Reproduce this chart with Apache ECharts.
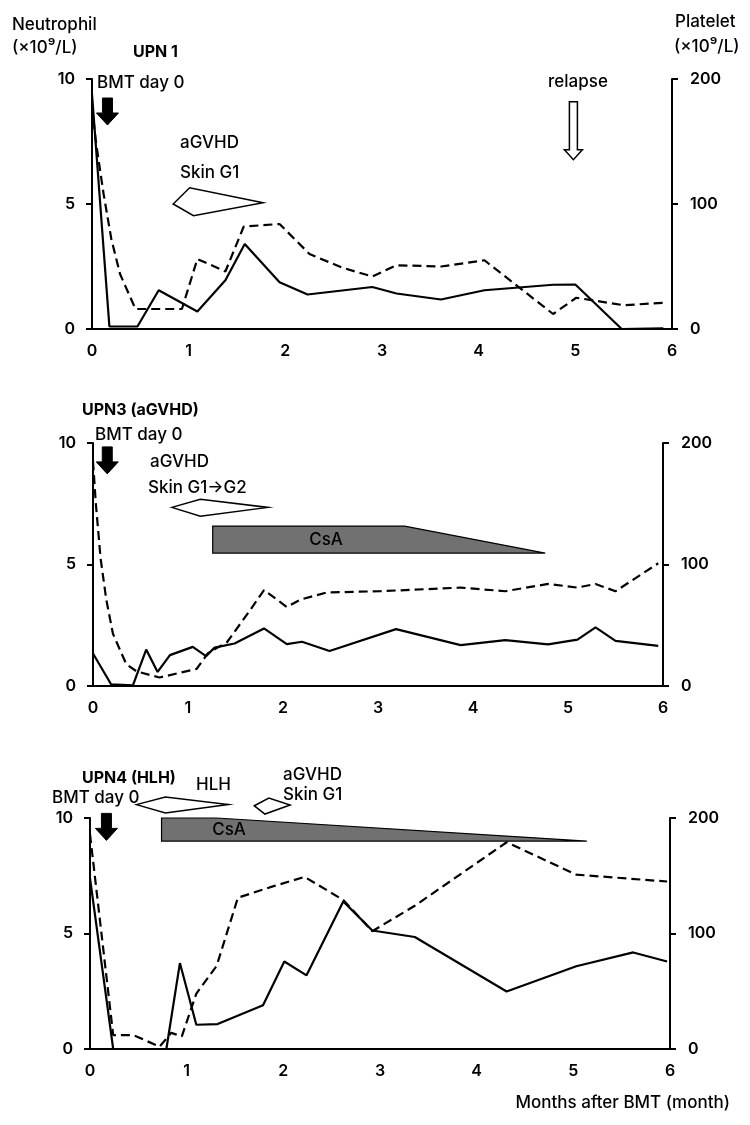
<!DOCTYPE html>
<html><head><meta charset="utf-8">
<script src="https://cdn.jsdelivr.net/npm/echarts@6/dist/echarts.min.js"></script>
<style>html,body{margin:0;padding:0;background:#fff}#c{width:750px;height:1125px}</style>
</head><body><div id="c"></div>
<script>
// ---------- Data (months after BMT) ----------
const xTicks = [0, 1, 2, 3, 4, 5, 6];
// UPN 1
const p1NeutMonths = [0, 0.18, 0.47, 0.69, 1.09, 1.38, 1.58, 1.94, 2.23, 2.9, 3.15, 3.61, 4.06, 4.77, 5.0, 5.48, 5.91];
const p1Neut       = [9.4, 0.1, 0.1, 1.55, 0.7, 1.95, 3.4, 1.87, 1.38, 1.68, 1.42, 1.18, 1.55, 1.77, 1.78, 0, 0.03];
const p1PltMonths  = [0, 0.04, 0.12, 0.2, 0.29, 0.45, 0.93, 1.09, 1.38, 1.57, 1.94, 2.25, 2.59, 2.9, 3.15, 3.61, 4.06, 4.77, 5.01, 5.5, 5.91];
const p1Plt        = [178, 150, 108, 72, 44, 16, 16, 56, 46, 82, 84, 60, 49, 42, 51, 50, 55, 12, 25, 19, 21];
// UPN 3
const p2NeutMonths = [0, 0.19, 0.42, 0.56, 0.68, 0.81, 1.05, 1.19, 1.28, 1.49, 1.8, 2.04, 2.2, 2.49, 3.19, 3.87, 4.34, 4.79, 5.1, 5.29, 5.5, 5.95];
const p2Neut       = [1.34, 0.07, 0.03, 1.5, 0.58, 1.27, 1.61, 1.23, 1.58, 1.75, 2.37, 1.72, 1.82, 1.44, 2.34, 1.68, 1.89, 1.71, 1.91, 2.41, 1.86, 1.65];
const p2PltMonths  = [0, 0.03, 0.08, 0.14, 0.21, 0.35, 0.46, 0.7, 1.09, 1.21, 1.41, 1.65, 1.8, 2.04, 2.18, 2.46, 3.02, 3.87, 4.34, 4.79, 5.1, 5.29, 5.5, 5.95];
const p2Plt        = [185, 150, 105, 71, 43, 18, 12, 7, 14, 27, 36, 62, 79, 65, 71, 77, 78, 81, 78, 84, 81, 84, 78, 101];
// UPN 4
const p3NeutMonths = [0, 0.24, 0.79, 0.93, 1.1, 1.32, 1.79, 2.01, 2.24, 2.62, 2.92, 3.36, 4.31, 5.03, 5.62, 5.97];
const p3Neut       = [7.4, 0, 0, 3.72, 1.05, 1.08, 1.89, 3.79, 3.19, 6.39, 5.13, 4.85, 2.49, 3.58, 4.18, 3.79];
const p3PltMonths  = [0, 0.24, 0.45, 0.72, 0.84, 0.95, 1.1, 1.31, 1.53, 1.9, 2.22, 2.62, 2.92, 3.36, 4.31, 5.03, 5.97];
const p3Plt        = [186, 12, 12, 2, 14, 11, 48, 72, 131, 141, 149, 129, 102, 124, 179, 151, 145];

// ---------- Annotation geometry (month, neutrophil scale) ----------
const p1BmtArrow   = [0.16, 9.24];
const p1RelapseArrow = [4.98, 9.09];
const p1Gvhd       = [[0.84, 5.0], [1.01, 5.65], [1.77, 5.05], [1.05, 4.53]];
const p2BmtArrow   = [0.15, 9.84];
const p2Gvhd       = [[0.83, 7.35], [1.13, 7.68], [1.84, 7.35], [1.13, 6.99]];
const p2CsA        = [[1.26, 6.58], [3.28, 6.58], [4.76, 5.47], [1.26, 5.47]];
const p3BmtArrow   = [0.17, 10.2];
const p3Hlh        = [[0.48, 10.58], [0.78, 10.91], [1.43, 10.58], [0.78, 10.22]];
const p3Gvhd       = [[1.70, 10.53], [1.85, 10.86], [2.07, 10.56], [1.81, 10.17]];
const p3CsA        = [[0.74, 10.0], [1.31, 10.0], [5.14, 9.0], [0.74, 9.0]];

// ---------- Build option ----------
const FONT = 'Inter, "Noto Sans", sans-serif';
const zip = (a, b) => a.map((v, i) => [v, b[i]]);

const grids = [
  {left: 92, right: 78, top: 79, height: 250},
  {left: 93, right: 87, top: 443, height: 243},
  {left: 90, right: 80, top: 818, height: 231}
];
const axisLine = {show: true, lineStyle: {color: '#000', width: 2}};
const lbl = {color: '#000', fontFamily: FONT, fontSize: 16, fontWeight: 600};

const xAxes = grids.map((g, i) => ({
  type: 'value', gridIndex: i, min: xTicks[0], max: xTicks[xTicks.length - 1], interval: 1,
  axisLine, axisTick: {show: false}, splitLine: {show: false},
  axisLabel: Object.assign({margin: 14}, lbl)
}));
const yAxes = [];
grids.forEach((g, i) => {
  yAxes.push({type: 'value', gridIndex: i, position: 'left', min: 0, max: 10, interval: 5,
    axisLine, axisTick: {show: true, length: 6, lineStyle: {color: '#000', width: 2}},
    splitLine: {show: false}, axisLabel: Object.assign({margin: 17}, lbl)});
  yAxes.push({type: 'value', gridIndex: i, position: 'right', min: 0, max: 200, interval: 100,
    axisLine, axisTick: {show: true, length: 6, lineStyle: {color: '#000', width: 2}},
    splitLine: {show: false}, axisLabel: Object.assign({margin: 18}, lbl)});
});

function solidLine(i, xs, ys) {
  return {type: 'line', xAxisIndex: i, yAxisIndex: 2 * i, data: zip(xs, ys), symbol: 'none',
    lineStyle: {color: '#000', width: 2.2}, z: 5, animation: false};
}
function dashedLine(i, xs, ys) {
  return {type: 'line', xAxisIndex: i, yAxisIndex: 2 * i + 1, data: zip(xs, ys), symbol: 'none',
    lineStyle: {color: '#000', width: 2.2, type: [9, 5]}, z: 4, animation: false};
}

function polyShape(api, pts, fill, lw) {
  return {type: 'polygon', shape: {points: pts.map(p => api.coord(p))},
    style: {fill: fill, stroke: '#000', lineWidth: lw, lineJoin: 'miter'}};
}
function solidArrow(api, at) {
  const [x, y] = api.coord(at);
  return {type: 'polygon', shape: {points: [[x-5,y],[x+5,y],[x+5,y+15],[x+11,y+15],[x,y+27],[x-11,y+15],[x-5,y+15]]},
    style: {fill: '#000', stroke: '#000', lineWidth: 1}};
}
function hollowArrow(api, at) {
  const [x, y] = api.coord(at);
  return {type: 'polygon', shape: {points: [[x-4,y],[x+4,y],[x+4,y+48],[x+9,y+48],[x,y+58],[x-9,y+48],[x-4,y+48]]},
    style: {fill: '#fff', stroke: '#000', lineWidth: 1.5}};
}
function annot(i, builder) {
  return {type: 'custom', xAxisIndex: i, yAxisIndex: 2 * i, clip: false, silent: true, z: 6,
    data: [[0, 0]], animation: false,
    renderItem: (params, api) => ({type: 'group', children: builder(api)})};
}

const series = [
  solidLine(0, p1NeutMonths, p1Neut), dashedLine(0, p1PltMonths, p1Plt),
  solidLine(1, p2NeutMonths, p2Neut), dashedLine(1, p2PltMonths, p2Plt),
  solidLine(2, p3NeutMonths, p3Neut), dashedLine(2, p3PltMonths, p3Plt),
  annot(0, api => [solidArrow(api, p1BmtArrow), hollowArrow(api, p1RelapseArrow), polyShape(api, p1Gvhd, '#fff', 1.5)]),
  annot(1, api => [solidArrow(api, p2BmtArrow), polyShape(api, p2Gvhd, '#fff', 1.5), polyShape(api, p2CsA, '#717171', 1.2)]),
  annot(2, api => [solidArrow(api, p3BmtArrow), polyShape(api, p3Hlh, '#fff', 1.5), polyShape(api, p3Gvhd, '#fff', 1.5), polyShape(api, p3CsA, '#717171', 1.2)])
];

function txt(t, x, y, opts) {
  opts = opts || {};
  return {type: 'text', x: x, y: y, z: 100, silent: true,
    style: {text: t, fill: '#000', font: (opts.bold ? 'bold ' : '500 ') + (opts.size || 17) + 'px ' + FONT,
      textAlign: opts.align || 'left', textVerticalAlign: 'middle'}};
}
const graphic = [
  txt('Neutrophil', 12, 25), txt('(×10⁹/L)', 12, 48),
  txt('UPN 1', 133, 52, {bold: true, size: 16}),
  txt('Platelet', 675, 22), txt('(×10⁹/L)', 674, 47),
  txt('BMT day 0', 97, 83), txt('aGVHD', 180, 143), txt('Skin G1', 180, 173),
  txt('relapse', 578, 82, {align: 'center'}),
  txt('UPN3 (aGVHD)', 82, 410, {bold: true, size: 16}),
  txt('BMT day 0', 95, 435), txt('aGVHD', 150, 462), txt('Skin G1→G2', 148, 488),
  txt('CsA', 326, 540, {align: 'center'}),
  txt('UPN4 (HLH)', 82, 778, {bold: true, size: 16}),
  txt('BMT day 0', 52, 798), txt('HLH', 196, 785), txt('aGVHD', 283, 775), txt('Skin G1', 283, 795),
  txt('CsA', 229, 830, {align: 'center'}),
  txt('Months after BMT (month)', 730, 1103, {align: 'right'})
];

const chart = echarts.init(document.getElementById('c'), null, {renderer: 'canvas'});
chart.setOption({
  animation: false, backgroundColor: '#fff',
  grid: grids, xAxis: xAxes, yAxis: yAxes, series: series, graphic: graphic
});
</script></body></html>
